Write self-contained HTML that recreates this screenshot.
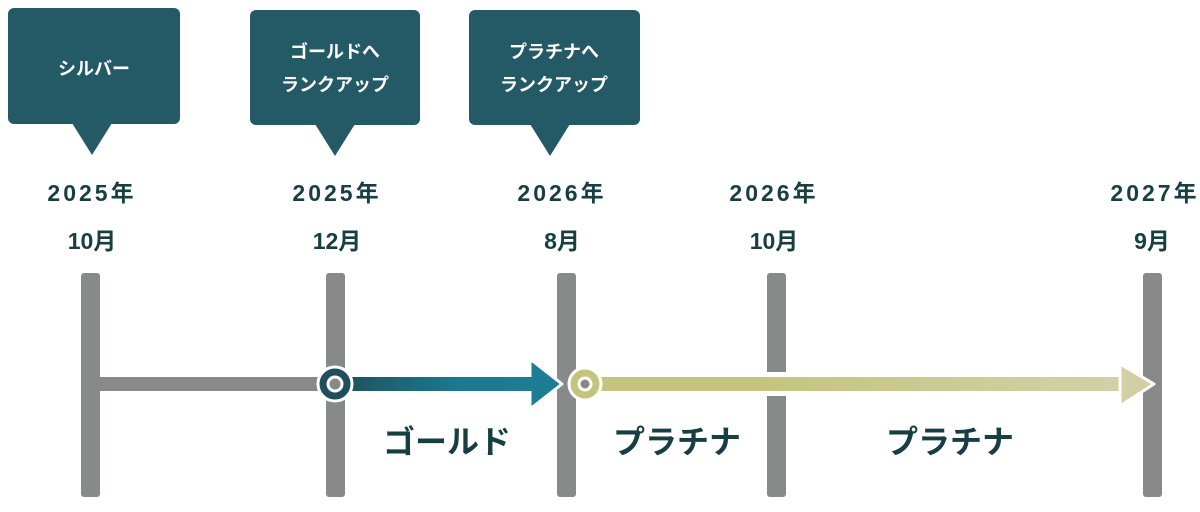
<!DOCTYPE html>
<html><head><meta charset="utf-8"><style>
body{margin:0;width:1200px;height:512px;background:#fff;overflow:hidden;position:relative;font-family:"Liberation Sans","Noto Sans CJK JP",sans-serif;}
</style></head><body>
<svg width="1200" height="512" viewBox="0 0 1200 512" style="position:absolute;left:0;top:0">
<defs>
<linearGradient id="g1" x1="0" x2="1"><stop offset="0" stop-color="#1f4f5a"/><stop offset="0.6" stop-color="#1b7890"/><stop offset="1" stop-color="#1c7d95"/></linearGradient>
<linearGradient id="g2" x1="0" x2="1"><stop offset="0" stop-color="#c4c47e"/><stop offset="0.3" stop-color="#c4c47e"/><stop offset="1" stop-color="#d4d0a8"/></linearGradient>
</defs>
<g fill="#235a66">
<rect x="8" y="8" width="172" height="116" rx="6"/><polygon points="72,123 112,123 92,155"/>
<rect x="250" y="10" width="170" height="115" rx="6"/><polygon points="315,124 355,124 335,156"/>
<rect x="469" y="10" width="171" height="115" rx="6"/><polygon points="530,124 570,124 550,156"/>
</g>
<g fill="#fff" font-weight="bold" font-size="18" text-anchor="middle" font-family="Liberation Sans, Noto Sans CJK JP, sans-serif">
<text x="94" y="75">シルバー</text>
<text x="335" y="58">ゴールドへ</text><text x="335" y="91">ランクアップ</text>
<text x="554" y="58">プラチナへ</text><text x="554" y="91">ランクアップ</text>
</g>
<g fill="#173f42" font-weight="bold" font-size="23" text-anchor="middle" font-family="Liberation Sans, Noto Sans CJK JP, sans-serif" letter-spacing="3">
<text x="92" y="201">2025年</text><text x="92" y="249" letter-spacing="0">10月</text>
<text x="337" y="201">2025年</text><text x="337" y="249" letter-spacing="0">12月</text>
<text x="562" y="201">2026年</text><text x="562" y="249" letter-spacing="0">8月</text>
<text x="774" y="201">2026年</text><text x="774" y="249" letter-spacing="0">10月</text>
<text x="1155" y="201">2027年</text><text x="1152" y="249" letter-spacing="0">9月</text>
</g>
<g fill="#888a8a">
<rect x="81" y="273" width="19" height="224" rx="3"/>
<rect x="326" y="273" width="19" height="224" rx="3"/>
<rect x="557" y="273" width="19" height="224" rx="3"/>
<rect x="767" y="273" width="19" height="224" rx="3"/>
<rect x="1143" y="273" width="19" height="224" rx="3"/>
<rect x="100" y="377" width="230" height="14"/>
</g>
<rect x="767" y="372" width="19" height="24" fill="#fff"/>
<polygon points="530,359 562,384 530,409" fill="#1c7d95" stroke="#fff" stroke-width="3" stroke-linejoin="round"/>
<rect x="335" y="377" width="198" height="14" fill="url(#g1)"/>
<circle cx="335" cy="384" r="17" fill="#1f4f5a" stroke="#fff" stroke-width="3"/>
<circle cx="335" cy="384" r="7" fill="#888" stroke="#fff" stroke-width="3"/>
<rect x="584" y="377" width="545" height="14" fill="url(#g2)"/>
<polygon points="1120,364 1154,384 1120,406" fill="#d2cfa4" stroke="#fff" stroke-width="3" stroke-linejoin="round"/>
<circle cx="585" cy="384" r="16" fill="#c4c47e" stroke="#fff" stroke-width="3"/>
<circle cx="585" cy="384" r="6" fill="#888" stroke="#fff" stroke-width="3"/>
<g fill="#173f42" font-weight="bold" font-size="32" text-anchor="middle" font-family="Liberation Sans, Noto Sans CJK JP, sans-serif">
<text x="447" y="453">ゴールド</text>
<text x="677" y="453">プラチナ</text>
<text x="950" y="453">プラチナ</text>
</g>
</svg>
</body></html>
